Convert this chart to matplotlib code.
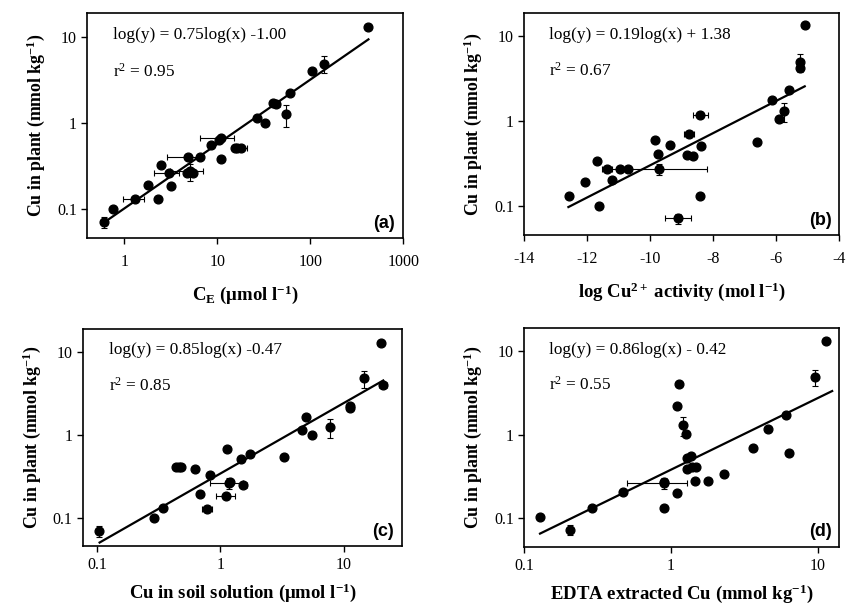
import numpy as np
import matplotlib
matplotlib.use('Agg')
import matplotlib.pyplot as plt

plt.rcParams['font.family'] = ['Liberation Serif', 'DejaVu Serif']
plt.rcParams['mathtext.fontset'] = 'custom'
plt.rcParams['mathtext.rm'] = 'Liberation Serif'
plt.rcParams['mathtext.bf'] = 'Liberation Serif:bold'
plt.rcParams['mathtext.it'] = 'Liberation Serif:italic'
plt.rcParams['axes.unicode_minus'] = False

# (a) Cu in plant vs C_E
xa = [423, 140, 105, 60, 42.6, 40, 55.6, 27, 33, 10.9, 10.5, 8.6, 15.5, 16.5, 18,
      6.6, 4.8, 11, 2.5, 3.0, 4.7, 5.1, 5.5, 1.8, 3.2, 1.3, 2.3, 0.76, 0.61]
ya = [13, 4.85, 4.0, 2.2, 1.67, 1.7, 1.25, 1.12, 1.0, 0.67, 0.62, 0.55, 0.51, 0.51, 0.51,
      0.395, 0.395, 0.38, 0.32, 0.26, 0.26, 0.27, 0.26, 0.19, 0.185, 0.128, 0.128, 0.098, 0.07]
xa_err = [0, 0, 0, 0, 5, 0, 0, 0, 0, 4.3, 0, 0, 0, 0, 3,
          0, 1.9, 0, 0, 0.9, 0, 2.0, 0, 0, 0, 0.33, 0, 0, 0]
ya_err = [0, 1.1, 0, 0, 0, 0, 0.35, 0, 0, 0, 0, 0, 0, 0, 0,
          0, 0, 0, 0, 0, 0, 0.06, 0, 0, 0, 0, 0, 0, 0.01]

# (b) Cu in plant vs log Cu2+ activity
xb = [-5.08, -5.26, -5.26, -5.61, -6.15, -5.77, -5.93, -8.42, -6.62, -8.77, -9.84, -9.37,
      -8.39, -9.77, -8.85, -8.66, -11.69, -11.39, -10.95, -10.72, -9.71, -12.08, -11.22,
      -12.57, -8.43, -11.64, -9.13]
yb = [13.6, 5.0, 4.2, 2.34, 1.78, 1.31, 1.06, 1.19, 0.56, 0.71, 0.6, 0.52,
      0.51, 0.41, 0.40, 0.39, 0.34, 0.27, 0.27, 0.27, 0.27, 0.19, 0.2,
      0.13, 0.13, 0.1, 0.071]
xb_err = [0, 0, 0, 0, 0, 0, 0, 0.24, 0, 0.15, 0, 0,
          0, 0, 0, 0, 0, 0.15, 0, 0, 1.5, 0, 0,
          0, 0, 0, 0.42]
yb_err = [0, 1.2, 0, 0, 0, 0.33, 0, 0, 0, 0, 0, 0,
          0, 0, 0, 0, 0, 0, 0, 0, 0.04, 0, 0,
          0, 0, 0, 0.01]

# (c) Cu in plant vs Cu in soil solution
xc = [20, 14.7, 21, 11.2, 11.2, 4.96, 4.6, 5.6, 7.8, 1.14, 1.74, 1.46, 3.3, 0.44, 0.46,
      0.48, 0.62, 0.83, 1.18, 1.2, 1.54, 0.69, 1.12, 0.78, 0.34, 0.29, 0.104]
yc = [12.8, 4.8, 3.96, 2.2, 2.1, 1.65, 1.13, 0.99, 1.23, 0.67, 0.59, 0.51, 0.54, 0.41, 0.41,
      0.41, 0.38, 0.33, 0.26, 0.27, 0.25, 0.19, 0.18, 0.126, 0.129, 0.098, 0.068]
xc_err = [0, 0, 1.5, 0, 0, 0, 0, 0, 0, 0, 0, 0, 0, 0, 0,
          0, 0, 0, 0.35, 0, 0.1, 0, 0.19, 0.07, 0, 0, 0]
yc_err = [0, 1.1, 0, 0, 0, 0, 0, 0, 0.33, 0, 0, 0, 0, 0, 0,
          0, 0, 0, 0.04, 0, 0, 0, 0, 0, 0, 0, 0.01]

# (d) Cu in plant vs EDTA extracted Cu
xd = [11.3, 9.5, 1.13, 1.1, 1.21, 1.26, 6.1, 4.6, 3.6, 6.35, 1.29, 1.36, 1.29, 1.38, 1.48,
      2.3, 1.46, 1.78, 0.89, 0.9, 0.47, 1.1, 0.29, 0.9, 0.128, 0.205]
yd = [13.3, 4.9, 4.1, 2.23, 1.29, 1.03, 1.74, 1.16, 0.69, 0.6, 0.53, 0.56, 0.39, 0.41, 0.41,
      0.34, 0.275, 0.275, 0.26, 0.27, 0.206, 0.197, 0.133, 0.133, 0.102, 0.072]
xd_err = [0, 0, 0, 0, 0, 0, 0, 0, 0, 0, 0, 0, 0, 0, 0,
          0, 0, 0, 0.39, 0, 0, 0, 0, 0, 0, 0]
yd_err = [0, 1.1, 0, 0.1, 0.33, 0, 0, 0, 0, 0, 0, 0, 0, 0, 0,
          0, 0, 0, 0.04, 0, 0, 0, 0, 0, 0, 0.01]

# regression equations: (slope, intercept, x range)
fit_a = (0.75, -1.00, 0.6, 423)
fit_b = (0.19, 1.38, -12.6, -5.1)
fit_c = (0.85, -0.47, 0.105, 21)
fit_d = (0.86, -0.42, 0.128, 12.5)

eq_texts = ['log(y) = 0.75log(x) -1.00', 'log(y) = 0.19log(x) + 1.38',
            'log(y) = 0.85log(x) -0.47', 'log(y) = 0.86log(x) - 0.42']
r2_texts = ['r$^2$ = 0.95', 'r$^2$ = 0.67', 'r$^2$ = 0.85', 'r$^2$ = 0.55']
panel_labels = ['(a)', '(b)', '(c)', '(d)']
xlabels = [r'$\mathbf{C_E}$ ($\mathbf{\mu}$mol l$^{\mathbf{-1}}$)',
           r'log Cu$^{\mathbf{2+}}$ activity (mol l$^{\mathbf{-1}}$)',
           r'Cu in soil solution ($\mathbf{\mu}$mol l$^{\mathbf{-1}}$)',
           r'EDTA extracted Cu (mmol kg$^{\mathbf{-1}}$)']
ylabel = r'Cu in plant (mmol kg$^{\mathbf{-1}}$)'

fig = plt.figure(figsize=(8.47, 6.11), dpi=100)
positions = [[0.103, 0.610, 0.373, 0.369],
             [0.619, 0.615, 0.372, 0.364],
             [0.098, 0.106, 0.377, 0.356],
             [0.619, 0.105, 0.372, 0.358]]
xlims = [(0.4, 1000), (-14, -4), (0.077, 30), (0.1, 14)]
panels = [(xa, ya, xa_err, ya_err, fit_a), (xb, yb, xb_err, yb_err, fit_b),
          (xc, yc, xc_err, yc_err, fit_c), (xd, yd, xd_err, yd_err, fit_d)]

for i, (x, y, xe, ye, fit) in enumerate(panels):
    ax = fig.add_axes(positions[i])
    ax.set_yscale('log')
    if i != 1:
        ax.set_xscale('log')
    ax.errorbar(x, y, xerr=xe, yerr=ye, fmt='o', color='black', ms=6.3,
                elinewidth=0.8, capsize=2, capthick=0.8)
    slope, icpt, x0, x1 = fit
    xl = np.array([x0, x1])
    if i == 1:
        yl = 10 ** (slope * xl + icpt)
    else:
        yl = 10 ** (slope * np.log10(xl) + icpt)
    ax.plot(xl, yl, color='black', lw=1.6)
    ax.set_xlim(*xlims[i])
    ax.set_ylim(0.045, 19)
    ax.set_yticks([0.1, 1, 10])
    ax.set_yticklabels(['0.1', '1', '10'])
    if i == 0:
        ax.set_xticks([1, 10, 100, 1000])
        ax.set_xticklabels(['1', '10', '100', '1000'])
    elif i == 1:
        ax.set_xticks([-14, -12, -10, -8, -6, -4])
    else:
        ax.set_xticks([0.1, 1, 10])
        ax.set_xticklabels(['0.1', '1', '10'])
    ax.minorticks_off()
    ax.tick_params(labelsize=11.5, direction='out', length=4, width=1)
    bottom_row = i >= 2
    ax.tick_params(axis='x', pad=4 if bottom_row else 7)
    for s in ax.spines.values():
        s.set_linewidth(1.2)
    ax.set_xlabel(xlabels[i], fontsize=13.5, fontweight='bold',
                  labelpad=6 if bottom_row else 10)
    ax.set_ylabel(ylabel, fontsize=12.8, fontweight='bold', labelpad=7)
    ax.text(0.08, 0.90, eq_texts[i], transform=ax.transAxes, fontsize=12.4, va='center')
    ax.text(0.08, 0.74, r2_texts[i], transform=ax.transAxes, fontsize=12.4, va='center')
    ax.text(0.975, 0.03, panel_labels[i], transform=ax.transAxes, fontsize=13,
            fontweight='bold', family='Liberation Sans', ha='right', va='bottom')

fig.savefig('out.png', dpi=100)
